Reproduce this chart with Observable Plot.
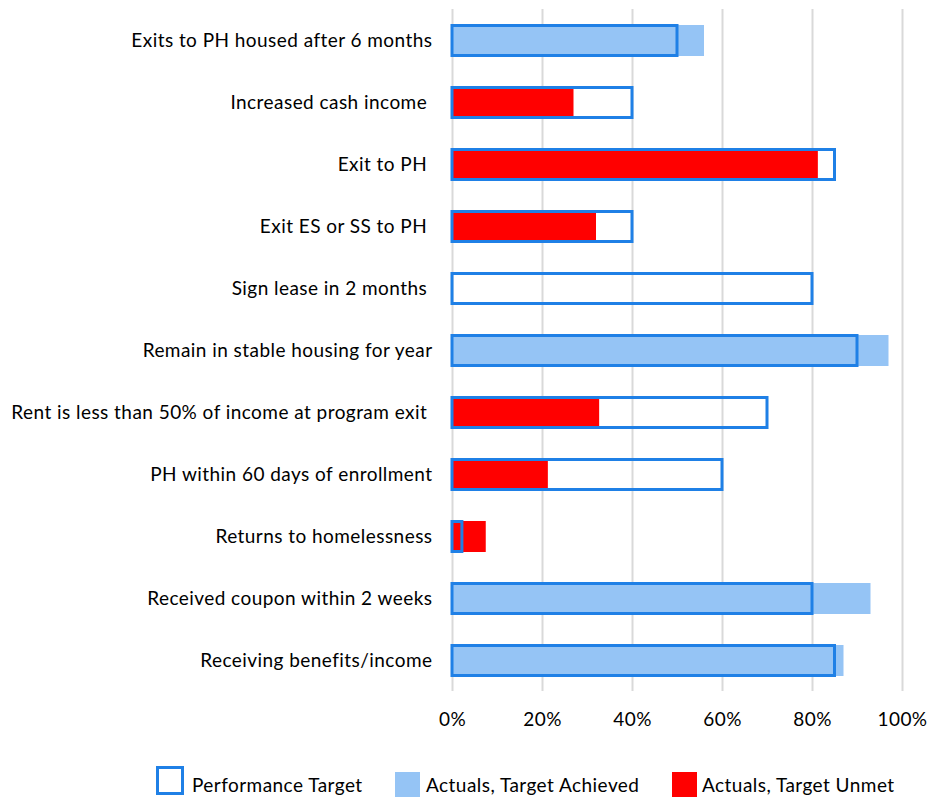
<!DOCTYPE html>
<html>
<head>
<meta charset="utf-8">
<script src="https://cdn.jsdelivr.net/npm/d3@7"></script>
<script src="https://cdn.jsdelivr.net/npm/@observablehq/plot@0.6"></script>
<style>
  body { margin: 0; background: #fff; font-family: Lato, "Open Sans", sans-serif; }
  #chart svg { display: block; }
  #chart svg text { white-space: pre; letter-spacing: 0.45px; }
  #legend { display: block; }
  #legend text { font-family: Lato, "Open Sans", sans-serif; font-size: 19px; letter-spacing: 0.45px; fill: #000; }
</style>
</head>
<body>
<div id="chart"></div>
<svg id="legend" width="929" height="55"></svg>
<script>
const categories = [
  "Exits to PH housed after 6 months",
  "Increased cash income ",
  "Exit to PH ",
  "Exit ES or SS to PH ",
  "Sign lease in 2 months ",
  "Remain in stable housing for year",
  "Rent is less than 50% of income at program exit ",
  "PH within 60 days of enrollment",
  "Returns to homelessness",
  "Received coupon within 2 weeks",
  "Receiving benefits/income"
];
const actuals = [56, 27, 81.3, 32, 0, 97, 32.7, 21.3, 7.5, 93, 87];
const targets = [50, 40, 85, 40, 80, 90, 70, 60, 2.2, 80, 85];
const status = ["Achieved", "Unmet", "Unmet", "Unmet", "Unmet", "Achieved", "Unmet", "Unmet", "Unmet", "Achieved", "Achieved"];
const xTicks = [0, 20, 40, 60, 80, 100];
const legendLabels = ["Performance Target", "Actuals, Target Achieved", "Actuals, Target Unmet"];

const targetColor = "#1f80e6";
const achievedColor = "#95c4f5";
const unmetColor = "#ff0000";

const rows = categories.map((c, i) => ({ category: c, actual: actuals[i], target: targets[i], status: status[i] }));

const chart = Plot.plot({
  width: 929,
  height: 745,
  marginLeft: 452,
  marginRight: 27,
  marginTop: 9,
  marginBottom: 54,
  style: { fontFamily: "Lato, 'Open Sans', sans-serif", fontSize: "19px", color: "#000", background: "#fff" },
  x: { domain: [0, 100], ticks: xTicks, tickFormat: d => d + "%", label: null },
  y: { domain: categories, paddingInner: 0.5, paddingOuter: 0.25, label: null },
  color: { domain: ["Achieved", "Unmet"], range: [achievedColor, unmetColor] },
  marks: [
    Plot.gridX(xTicks, { stroke: "#d9d9d9", strokeOpacity: 1, strokeWidth: 2 }),
    Plot.barX(rows, { x: "actual", y: "category", fill: "status" }),
    Plot.barX(rows, { x: "target", y: "category", fill: "none", stroke: targetColor, strokeWidth: 3, insetTop: 0.5, insetBottom: 0.5 }),
    Plot.axisX({ ticks: xTicks, tickFormat: d => d + "%", tickSize: 0, tickPadding: 21, label: null, fontSize: 19 }),
    Plot.axisY({ tickSize: 0, tickPadding: 20, label: null, fontSize: 19 })
  ]
});
document.getElementById("chart").appendChild(chart);

// Legend (below the chart SVG)
const leg = d3.select("#legend");
leg.append("rect").attr("x", 157.5).attr("y", 22.5).attr("width", 25).attr("height", 26)
  .attr("fill", "#fff").attr("stroke", targetColor).attr("stroke-width", 3);
leg.append("rect").attr("x", 395).attr("y", 27).attr("width", 25).attr("height", 25).attr("fill", achievedColor);
leg.append("rect").attr("x", 672).attr("y", 27).attr("width", 25).attr("height", 25).attr("fill", unmetColor);
const textX = [192, 426, 702];
legendLabels.forEach((t, i) => leg.append("text").attr("x", textX[i]).attr("y", 47).text(t));
</script>
</body>
</html>
